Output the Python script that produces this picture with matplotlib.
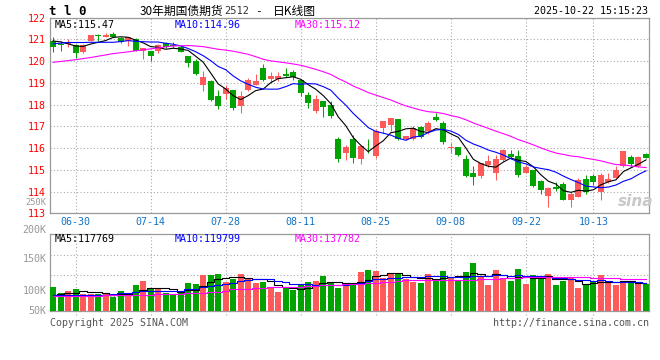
import numpy as np
import pandas as pd
import matplotlib
matplotlib.use("Agg")
import matplotlib.pyplot as plt

W, H = 660, 360

# trading days 06-25 .. 10-22 (national day holiday removed)
days = pd.bdate_range("2025-06-25", "2025-10-22")
days = days[(days < "2025-10-01") | (days > "2025-10-08")]
tick_labels = ["06-30", "07-14", "07-28", "08-11", "08-25", "09-08", "09-22", "10-13"]

opens = [120.92, 120.75, 120.80, 120.74, 120.43, 120.94, 121.16, 121.09, 121.25, 121.06,
         120.92, 121.00, 120.45, 120.46, 120.46, 120.82, 120.72, 120.66, 120.23, 120.00,
         118.89, 119.10, 118.37, 118.49, 118.67, 117.95, 118.67, 118.90, 119.68, 119.18,
         119.18, 119.42, 119.51, 119.13, 118.44, 117.72, 118.14, 117.98, 116.42, 115.76,
         116.42, 115.49, 115.99, 115.64, 116.94, 117.06, 117.32, 116.42, 116.41, 116.96,
         116.76, 117.42, 117.17, 116.00, 116.04, 115.50, 114.84, 114.72, 115.23, 114.84,
         115.43, 115.72, 115.64, 114.87, 114.97, 114.49, 113.80, 114.23, 114.35, 113.59,
         113.77, 114.57, 114.72, 114.00, 114.42, 114.64, 115.18, 115.61, 115.18, 115.73]
highs = [121.12, 120.90, 121.00, 120.76, 120.79, 121.20, 121.25, 121.28, 121.34, 121.09,
         121.12, 121.06, 120.60, 120.46, 120.77, 120.88, 120.88, 120.69, 120.23, 120.08,
         119.56, 119.13, 118.67, 118.90, 118.67, 118.63, 119.21, 119.41, 119.84, 119.50,
         119.50, 119.68, 119.59, 119.18, 118.56, 118.44, 118.17, 118.14, 116.50, 116.15,
         116.60, 116.11, 116.42, 116.88, 117.26, 117.37, 117.32, 116.56, 116.99, 117.02,
         117.25, 117.60, 117.22, 116.22, 116.07, 115.69, 115.17, 115.30, 115.69, 115.69,
         115.95, 115.89, 115.89, 115.23, 114.97, 114.54, 114.23, 114.46, 114.43, 113.96,
         114.64, 114.74, 114.80, 114.84, 114.84, 115.18, 115.87, 115.69, 115.64, 115.79]
lows = [120.43, 120.48, 120.63, 120.16, 120.39, 120.90, 120.90, 121.09, 121.09, 120.82,
        120.71, 120.48, 120.11, 120.02, 120.39, 120.59, 120.58, 120.43, 119.74, 119.36,
        118.64, 118.16, 117.80, 118.26, 117.74, 117.63, 118.63, 118.90, 119.10, 118.98,
        119.10, 119.28, 119.13, 118.37, 117.86, 117.60, 117.42, 117.40, 115.38, 115.46,
        115.33, 115.27, 115.76, 115.56, 116.68, 116.80, 116.38, 116.38, 116.38, 116.45,
        116.64, 117.22, 116.18, 115.79, 115.64, 114.69, 114.31, 114.64, 115.15, 114.51,
        115.41, 115.49, 114.69, 114.84, 114.20, 113.88, 113.31, 114.03, 113.59, 113.31,
        113.77, 113.88, 114.31, 113.59, 114.38, 114.61, 115.15, 115.18, 115.15, 115.53]
closes = [120.66, 120.74, 120.82, 120.39, 120.74, 121.20, 121.15, 121.21, 121.12, 120.89,
          121.09, 120.48, 120.60, 120.25, 120.74, 120.63, 120.71, 120.43, 119.93, 119.41,
          119.28, 118.21, 117.91, 118.78, 117.86, 118.37, 119.13, 119.06, 119.13, 119.32,
          119.32, 119.33, 119.28, 118.55, 118.09, 118.26, 117.88, 117.45, 115.49, 116.07,
          115.52, 116.11, 115.98, 116.80, 117.26, 117.37, 116.42, 116.56, 116.94, 116.50,
          117.16, 117.29, 116.28, 116.03, 115.69, 114.72, 114.69, 115.30, 115.41, 115.49,
          115.89, 115.61, 114.77, 115.15, 114.26, 114.05, 114.14, 114.12, 113.62, 113.89,
          114.52, 113.96, 114.42, 114.77, 114.58, 114.97, 115.87, 115.26, 115.61, 115.56]
# volume, thousand lots
volumes = [102.5, 75.4, 84.0, 92.5, 74.0, 74.0, 71.2, 71.2, 59.8, 84.0,
           75.4, 109.6, 126.6, 92.5, 95.3, 75.4, 72.6, 78.3, 118.1, 113.8,
           152.3, 152.3, 156.5, 122.4, 138.0, 156.5, 138.0, 118.1, 122.4, 102.5,
           79.7, 98.2, 88.2, 109.6, 122.4, 126.6, 148.0, 122.4, 98.2, 109.6,
           118.1, 166.5, 173.6, 170.8, 140.9, 160.8, 160.8, 138.0, 123.8, 118.1,
           156.5, 138.0, 170.8, 143.7, 129.5, 165.1, 203.5, 145.1, 111.0, 173.6,
           140.9, 126.6, 179.3, 113.8, 152.3, 139.5, 156.5, 111.0, 126.6, 140.9,
           96.8, 111.0, 122.4, 152.3, 126.6, 111.0, 126.6, 119.5, 122.4, 113.8]

# moving averages before enough bars are in the window
ma5_head = [120.92, 120.88, 120.79, 120.69]
ma10_head = [120.79, 120.82, 120.85, 120.85, 120.85, 120.86, 120.86, 120.86, 120.86]
ma30_head = [119.94, 119.98, 120.02, 120.06, 120.11, 120.16, 120.22, 120.28, 120.34, 120.38,
             120.42, 120.47, 120.51, 120.56, 120.60, 120.65, 120.69, 120.70, 120.71, 120.69,
             120.66, 120.60, 120.54, 120.50, 120.45, 120.38, 120.31, 120.20, 120.08]
vma5_head = [69.7, 72.6, 75.6, 76.9]
vma10_head = [66.9, 67.4, 67.9, 68.4, 68.9, 69.4, 69.9, 70.4, 70.9]
vma30_head = [64.0, 64.3, 64.6, 65.0, 65.4, 65.8, 66.2, 66.6, 67.0, 67.5,
              68.5, 69.5, 70.0, 70.5, 71.0, 71.5, 73.0, 74.5, 76.0, 77.5,
              79.0, 81.0, 83.0, 86.0, 92.5, 94.0, 96.0, 98.0, 100.0]


def moving_avg(values, n, head):
    s = pd.Series(values).rolling(n).mean().to_numpy()
    s[:n - 1] = head
    return s


RED = "#ff5a5a"
GREEN = "#00a300"
GRID = "#aaaaaa"
MONO = "DejaVu Sans Mono"
CJK = ["Noto Sans CJK SC", "DejaVu Sans"]


def fx(px):
    return px / W


def fy(py):
    return 1 - py / H


o = np.array(opens)
c = np.array(closes)
x = np.arange(len(c))
cols = np.where(c >= o, RED, GREEN)
tick_idx = [list(days.strftime("%m-%d")).index(t) for t in tick_labels]

fig = plt.figure(figsize=(6.6, 3.6), dpi=100)
fig.patch.set_facecolor("white")

ax = fig.add_axes([fx(50), fy(213.3), fx(649) - fx(50), fy(17.5) - fy(213.3)])
axv = fig.add_axes([fx(50), fy(311), fx(649) - fx(50), fy(234) - fy(311)])

# candles
ax.vlines(x, lows, highs, colors=cols, lw=0.75, zorder=3)
body = np.maximum(np.abs(c - o), 0.035)
ax.bar(x, body, 0.8, bottom=np.minimum(o, c), color=cols, lw=0, zorder=3)
ax.plot(x, moving_avg(closes, 5, ma5_head), color="black", lw=0.8, zorder=4)
ax.plot(x, moving_avg(closes, 10, ma10_head), color="#0000ff", lw=0.8, zorder=4)
ax.plot(x, moving_avg(closes, 30, ma30_head), color="#ff00ff", lw=0.8, zorder=4)

ax.set_xlim(-0.4, len(c) - 0.6)
ax.set_ylim(113, 122)
ax.set_yticks(range(113, 123))
ax.set_xticks(tick_idx)
ax.set_xticklabels(tick_labels)
ax.tick_params(axis="y", length=0, pad=3, labelcolor="red", labelsize=7.2)
ax.tick_params(axis="x", length=0, pad=2.5, labelcolor="#1273c4", labelsize=7.2)
for lab in ax.get_xticklabels() + ax.get_yticklabels():
    lab.set_fontfamily(MONO)
ax.grid(True, ls=(0, (1, 2)), color=GRID, lw=0.8)
ax.set_axisbelow(True)

# volume
axv.bar(x, volumes, 0.8, color=cols, lw=0, zorder=3)
axv.plot(x, moving_avg(volumes, 5, vma5_head), color="black", lw=0.8, drawstyle="steps-mid", zorder=4)
axv.plot(x, moving_avg(volumes, 10, vma10_head), color="#0000ff", lw=0.8, drawstyle="steps-mid", zorder=4)
axv.plot(x, moving_avg(volumes, 30, vma30_head), color="#ff00ff", lw=0.8, drawstyle="steps-mid", zorder=4)
axv.set_xlim(ax.get_xlim())
axv.set_ylim(0, 329)
axv.set_yticks([66, 152, 239])
axv.set_xticks(tick_idx)
axv.tick_params(length=0, labelleft=False, labelbottom=False)
axv.grid(True, ls=(0, (1, 2)), color=GRID, lw=0.8)
axv.set_axisbelow(True)
axv.vlines(tick_idx, -17, 0, colors=GRID, ls=(0, (1, 2)), lw=0.8, clip_on=False)

for a in (ax, axv):
    for sp in a.spines.values():
        sp.set_color("#999999")
        sp.set_linewidth(0.9)

# volume axis labels (250K sits squeezed between 114 and 113)
fig.text(fx(46.5), fy(202.6), "250K", ha="right", va="center", fontsize=6.2,
         family=MONO, color="#999999")
for lab, py in [("200K", 230), ("150K", 259.3), ("100K", 291), ("50K", 310.7)]:
    fig.text(fx(46.5), fy(py), lab, ha="right", va="center", fontsize=7.2,
             family=MONO, color="#999999")

# legends
for txt, px, col in [("MA5:115.47", 55, "black"), ("MA10:114.96", 175, "#0000ff"),
                     ("MA30:115.12", 295, "#ff00ff")]:
    fig.text(fx(px), fy(24.5), txt, ha="left", va="center", fontsize=7.2, family=MONO, color=col)
for txt, px, col in [("MA5:117769", 55, "black"), ("MA10:119799", 175, "#0000ff"),
                     ("MA30:137782", 295, "#ff00ff")]:
    fig.text(fx(px), fy(239.5), txt, ha="left", va="center", fontsize=7.2, family=MONO, color=col)

# header
fig.text(fx(49), fy(11.5), "t l 0", ha="left", va="center", fontsize=9, family=MONO,
         weight="bold", color="black")
fig.text(fx(140), fy(11.5), "30年期国债期货", ha="left", va="center", fontsize=8.5, family=CJK)
fig.text(fx(224), fy(11.5), "2512", ha="left", va="center", fontsize=7.5, family=MONO, color="#333333")
fig.text(fx(255), fy(11.5), "-", ha="left", va="center", fontsize=8, family=MONO)
fig.text(fx(273), fy(11.5), "日K线图", ha="left", va="center", fontsize=8.5, family=CJK)
fig.text(fx(648), fy(11.5), "2025-10-22 15:15:23", ha="right", va="center", fontsize=7.2,
         family=MONO, color="black")

# footer
fig.text(fx(50), fy(323.5), "Copyright 2025 SINA.COM", ha="left", va="center", fontsize=7.2,
         family=MONO, color="#555555")
fig.text(fx(649), fy(323.5), "http://finance.sina.com.cn", ha="right", va="center",
         fontsize=7.2, family=MONO, color="#555555")

# watermark
fig.text(fx(636), fy(201), "sina", ha="center", va="center", fontsize=11, style="italic",
         weight="bold", color="#c8c8c8")

fig.savefig("out.png", dpi=100, facecolor="white")
